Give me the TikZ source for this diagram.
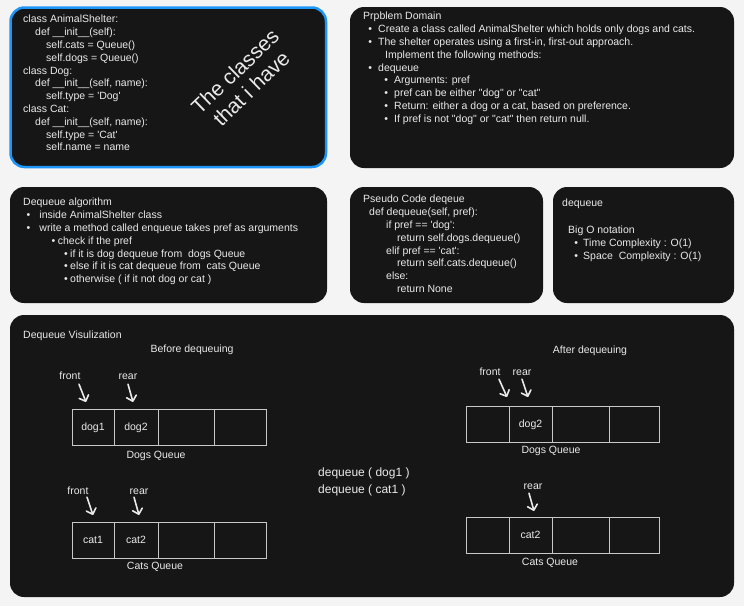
\documentclass[tikz,border=0pt]{standalone}
\usepackage{fontspec}
\newfontfamily\uifont{Liberation Sans}
\usetikzlibrary{positioning,arrows.meta}
\definecolor{pagebg}{HTML}{F4F4F4}
\definecolor{panelbg}{HTML}{161616}
\definecolor{fg}{HTML}{EAEAEA}
\definecolor{cellline}{HTML}{C8C8C8}
\definecolor{blueline}{HTML}{1E96F8}
\newcommand\itm[2]{\hspace*{#1pt}\makebox[#2pt][l]{\textbullet}}
\begin{document}
\begin{tikzpicture}[x=1pt,y=-1pt,panel/.style={fill=panelbg, rounded corners=14pt},code text/.style={text=fg, font=\uifont\fontsize{10.5}{12.8}\selectfont, inner sep=0pt, align=left, anchor=north west},label text/.style={text=fg, font=\uifont\fontsize{10.5}{12.8}\selectfont, inner sep=0pt, text height=7.5pt, text depth=0pt},call text/.style={text=fg, font=\uifont\fontsize{12}{17}\selectfont, inner sep=0pt, anchor=west, text height=8.6pt, text depth=0pt},queue cell/.style={draw=cellline, line width=0.9pt, minimum height=36pt, inner sep=0pt, outer sep=0pt, text=fg, font=\uifont\fontsize{10.5}{12.8}\selectfont, text height=7.5pt, text depth=0pt},pointer/.style={draw=fg, line width=1.6pt, line cap=round, -{Straight Barb[length=5pt,width=10pt,line cap=round,line join=round]}}]
\path[use as bounding box, fill=pagebg] (0,0) rectangle (744,606);
  % Panels
\path[panel, draw=blueline, line width=2.5pt] (10.5,7.5) rectangle (326,167);
\path[panel] (350,7) rectangle (734,168);
\path[panel] (10,187) rectangle (327,303);
\path[panel] (350,187) rectangle (543,303);
\path[panel] (553,187) rectangle (734,303);
\path[panel] (10,315) rectangle (734,597);
  % Classes
\node[code text] (classCode) at (23,13.7) {\strut class AnimalShelter:\\
\hspace*{12pt}def \_\_init\_\_(self):\\
\hspace*{23pt}self.cats = Queue()\\
\hspace*{23pt}self.dogs = Queue()\\
class Dog:\\
\hspace*{12pt}def \_\_init\_\_(self, name):\\
\hspace*{23pt}self.type = 'Dog'\\
class Cat:\\
\hspace*{12pt}def \_\_init\_\_(self, name):\\
\hspace*{23pt}self.type = 'Cat'\\
\hspace*{23pt}self.name = name};
\node[text=fg, font=\uifont\fontsize{21}{23.5}\selectfont, align=center, rotate=44] (classesNote) at (243,80) {The classes\\that i have};
  % Problem domain
\node[code text] (problemText) at (363,10.7) {\strut Prpblem Domain\\
\itm{5.2}{9.8}Create a class called AnimalShelter which holds only dogs and cats.\\
\itm{5.2}{9.8}The shelter operates using a first-in, first-out approach.\\
\hspace*{22pt}Implement the following methods:\\
\itm{5.2}{9.8}dequeue\\
\itm{21.2}{9.8}Arguments: pref\\
\itm{21.2}{9.8}pref can be either "dog" or "cat"\\
\itm{21.2}{9.8}Return: either a dog or a cat, based on preference.\\
\itm{21.2}{9.8}If pref is not "dog" or "cat" then return null.};
  % Algorithm
\node[code text] (algoText) at (23,196.7) {\strut Dequeue algorithm\\
\itm{3.5}{12.8}inside AnimalShelter class\\
\itm{3.5}{12.8}write a method called enqueue takes pref as arguments\\
\itm{28.5}{6.2}check if the pref\\
\itm{40.9}{6.1}if it is dog dequeue from~ dogs Queue\\
\itm{40.9}{6.1}else if it is cat dequeue from~ cats Queue\\
\itm{40.9}{6.1}otherwise ( if it not dog or cat )};
  % Pseudo code
\node[code text] (pseudoText) at (363,193.7) {\strut Pseudo Code deqeue\\
\hspace*{6pt}def dequeue(self, pref):\\
\hspace*{23pt}if pref == 'dog':\\
\hspace*{34pt}return self.dogs.dequeue()\\
\hspace*{23pt}elif pref == 'cat':\\
\hspace*{34pt}return self.cats.dequeue()\\
\hspace*{23pt}else:\\
\hspace*{34pt}return None};
  % Big O
\node[code text] (bigOText) at (562,197.7) {\strut dequeue\\[14.2pt]
\hspace*{6pt}Big O notation\\
\itm{12.2}{8.8}Time Complexity : O(1)\\
\itm{12.2}{8.8}Space~ Complexity : O(1)};
  % Visualization
\node[label text, anchor=west] (visTitle) at (23,335) {Dequeue Visulization};
\node[label text] (beforeTitle) at (192,349) {Before dequeuing};
\node[label text] (afterTitle) at (590,350) {After dequeuing};
  % Dogs queue before
\node[queue cell, minimum width=42pt, anchor=north west] (dogCellA) at (72,409) {dog1};
\node[queue cell, minimum width=44pt, right=0pt of dogCellA] (dogCellB) {dog2};
\node[queue cell, minimum width=56pt, right=0pt of dogCellB] (dogCellC) {};
\node[queue cell, minimum width=52pt, right=0pt of dogCellC] (dogCellD) {};
\node[label text] (dogsBeforeCap) at (156,455) {Dogs Queue};
\node[label text] (dogFrontLbl) at (70,376) {front};
\node[label text] (dogRearLbl) at (128,376) {rear};
\coordinate (dogFrontTip) at (86,402);
\coordinate (dogRearTip) at (133,402);
\draw[pointer] ([shift={(9,4.25)}]dogFrontLbl.south) -- (dogFrontTip);
\draw[pointer] ([shift={(0,4.25)}]dogRearLbl.south) -- (dogRearTip);
  % Cats queue before
\node[queue cell, minimum width=42pt, anchor=north west] (catCellA) at (72,522) {cat1};
\node[queue cell, minimum width=44pt, right=0pt of catCellA] (catCellB) {cat2};
\node[queue cell, minimum width=56pt, right=0pt of catCellB] (catCellC) {};
\node[queue cell, minimum width=52pt, right=0pt of catCellC] (catCellD) {};
\node[label text] (catsBeforeCap) at (155,566) {Cats Queue};
\node[label text] (catFrontLbl) at (78,491) {front};
\node[label text] (catRearLbl) at (139,491) {rear};
\coordinate (catFrontTip) at (93,515);
\coordinate (catRearTip) at (139,515);
\draw[pointer] ([shift={(9,2.25)}]catFrontLbl.south) -- (catFrontTip);
\draw[pointer] ([shift={(-5,2.25)}]catRearLbl.south) -- (catRearTip);
  % Dequeue calls
\node[call text] (deqDog) at (318,472) {dequeue ( dog1 )};
\node[call text] (deqCat) at (318,489) {dequeue ( cat1 )};
  % Dogs queue after
\node[queue cell, minimum width=43pt, anchor=north west] (dogAfterA) at (466,406) {};
\node[queue cell, minimum width=43pt, right=0pt of dogAfterA] (dogAfterB) {dog2};
\node[queue cell, minimum width=57pt, right=0pt of dogAfterB] (dogAfterC) {};
\node[queue cell, minimum width=50pt, right=0pt of dogAfterC] (dogAfterD) {};
\node[label text] (dogsAfterCap) at (551,450) {Dogs Queue};
\node[label text] (dogAfterFrontLbl) at (490,372) {front};
\node[label text] (dogAfterRearLbl) at (522,372) {rear};
\coordinate (dogAfterFrontTip) at (507,397);
\coordinate (dogAfterRearTip) at (528,397);
\draw[pointer] ([shift={(9,3.25)}]dogAfterFrontLbl.south) -- (dogAfterFrontTip);
\draw[pointer] ([shift={(0,3.25)}]dogAfterRearLbl.south) -- (dogAfterRearTip);
  % Cats queue after
\node[queue cell, minimum width=43pt, anchor=north west] (catAfterA) at (466,517) {};
\node[queue cell, minimum width=43pt, right=0pt of catAfterA] (catAfterB) {cat2};
\node[queue cell, minimum width=57pt, right=0pt of catAfterB] (catAfterC) {};
\node[queue cell, minimum width=50pt, right=0pt of catAfterC] (catAfterD) {};
\node[label text] (catsAfterCap) at (550,562) {Cats Queue};
\node[label text] (catAfterRearLbl) at (533,486) {rear};
\coordinate (catAfterRearTip) at (534,511);
\draw[pointer] ([shift={(-4,3.25)}]catAfterRearLbl.south) -- (catAfterRearTip);
\end{tikzpicture}
\end{document}
